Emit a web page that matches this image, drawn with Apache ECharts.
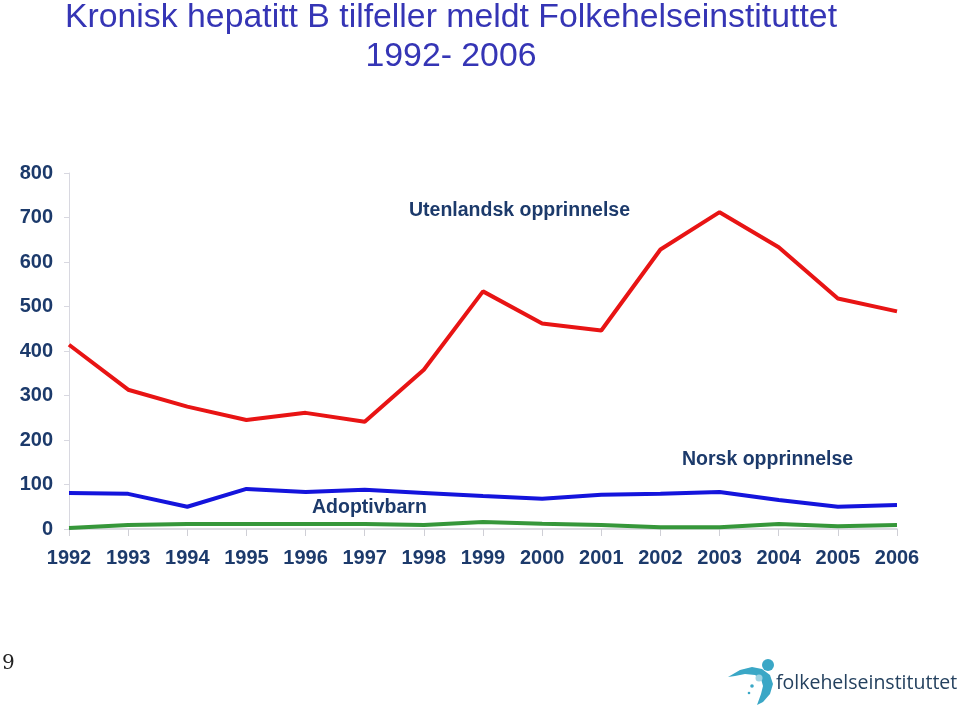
<!DOCTYPE html>
<html><head><meta charset="utf-8">
<script src="https://cdn.jsdelivr.net/npm/echarts@6/dist/echarts.min.js"></script>
<style>html,body{margin:0;padding:0;background:#fff}#c{width:960px;height:707px}</style>
</head><body><div id="c"></div>
<script>
const years = ['1992','1993','1994','1995','1996','1997','1998','1999','2000','2001','2002','2003','2004','2005','2006'];
const utenlandsk = [414,313,275,245,261,241,358,534,462,446,628,712,633,518,489];
const norsk = [81,79,50,90,83,88,81,74,68,77,79,83,65,50,54];
const adoptiv = [2,9,11,11,11,11,9,16,12,9,4,4,11,6,9];
const yTicks = [0,100,200,300,400,500,600,700,800];

const chart = echarts.init(document.getElementById('c'));
const labelColor = '#1c3a6b';
const lblFont = 'bold 19.5px "Liberation Sans", Arial';
chart.setOption({
  animation:false,
  title:{
    text:'Kronisk hepatitt B tilfeller meldt Folkehelseinstituttet\n1992- 2006',
    left:446, top:-7, textAlign:'center',
    textStyle:{color:'#3535b5', fontFamily:'Liberation Sans, Arial', fontSize:33.8, fontWeight:'normal', lineHeight:39}
  },
  grid:{left:69, right:63, top:173, bottom:178},
  xAxis:{
    type:'category', data:years, boundaryGap:false,
    axisLine:{lineStyle:{color:'#cfcfd6', width:1.5}},
    axisTick:{alignWithLabel:true, length:7, lineStyle:{color:'#cfcfd6'}},
    axisLabel:{color:labelColor, fontFamily:'Liberation Sans, Arial', fontWeight:'bold', fontSize:20, margin:19, interval:0}
  },
  yAxis:{
    type:'value', min:0, max:800, interval:100,
    axisLine:{show:true, lineStyle:{color:'#d8d8e0'}},
    axisTick:{show:true, length:5, lineStyle:{color:'#d8d8e0'}},
    splitLine:{show:false},
    axisLabel:{color:labelColor, fontFamily:'Liberation Sans, Arial', fontWeight:'bold', fontSize:20, margin:16,
      formatter:v=>yTicks.includes(v)?String(v):''}
  },
  series:[
    {type:'line', data:utenlandsk, symbol:'none', lineStyle:{color:'#e81414', width:4}},
    {type:'line', data:norsk, symbol:'none', lineStyle:{color:'#1414dc', width:4}},
    {type:'line', data:adoptiv, symbol:'none', lineStyle:{color:'#36973a', width:4}}
  ],
  graphic:[
    {type:'text', x:409, y:201, style:{text:'Utenlandsk opprinnelse', fill:labelColor, font:lblFont}},
    {type:'text', x:682, y:450, style:{text:'Norsk opprinnelse', fill:labelColor, font:lblFont}},
    {type:'text', x:312, y:498, style:{text:'Adoptivbarn', fill:labelColor, font:lblFont}},
    {type:'text', x:2, y:654, style:{text:'9', fill:'#222', font:'20px "DejaVu Serif", serif'}},
    {type:'polygon', shape:{points:[[728,677],[740,670],[752,667],[762,669],[770,675],[773,684],[770,694],[763,702],[757,705],[761,694],[763,686],[761,679],[755,675],[745,674],[735,676]]}, style:{fill:'#3aa7c6'}},
    {type:'circle', shape:{cx:768, cy:665, r:6}, style:{fill:'#3aa7c6'}},
    {type:'circle', shape:{cx:759, cy:678, r:3.5}, style:{fill:'#9fd3e3'}},
    {type:'circle', shape:{cx:752, cy:686, r:1.8}, style:{fill:'#3aa7c6'}},
    {type:'circle', shape:{cx:749, cy:693, r:1.3}, style:{fill:'#3aa7c6'}},
    {type:'text', x:776, y:673, style:{text:'folkehelseinstituttet', fill:'#24415f', font:'19.5px "Open Sans", "Noto Sans", sans-serif'}}
  ]
});
</script></body></html>
